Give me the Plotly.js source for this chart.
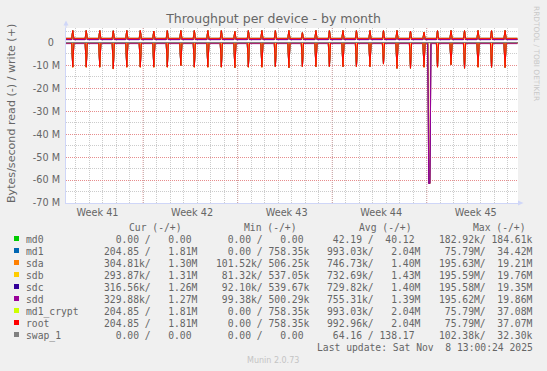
<!DOCTYPE html>
<html><head><meta charset="utf-8">
<script src="https://cdn.plot.ly/plotly-3.0.1.min.js"></script>
<style>html,body{margin:0;padding:0;background:#F0F0F0;overflow:hidden}#chart{width:547px;height:371px}</style>
</head><body><div id="chart"></div>
<script>
// ---------------- data ----------------
const seriesNames  = ['md0','md1','sda','sdb','sdc','sdd','md1_crypt','root','swap_1'];
const seriesColors = ['#00CC00','#0066B3','#FF8000','#FFCC00','#330099','#990099','#CCFF00','#FF0000','#808080'];

const curRead  = ['0.00','204.85','304.81k','293.87k','316.56k','329.88k','204.85','204.85','0.00'];
const curWrite = ['0.00','1.81M','1.30M','1.31M','1.26M','1.27M','1.81M','1.81M','0.00'];
const minRead  = ['0.00','0.00','101.52k','81.32k','92.10k','99.38k','0.00','0.00','0.00'];
const minWrite = ['0.00','758.35k','506.25k','537.05k','539.67k','500.29k','758.35k','758.35k','0.00'];
const avgRead  = ['42.19','993.03k','746.73k','732.69k','729.82k','755.31k','993.03k','992.96k','64.16'];
const avgWrite = ['40.12','2.04M','1.40M','1.43M','1.40M','1.39M','2.04M','2.04M','138.17'];
const maxRead  = ['182.92k','75.79M','195.63M','195.59M','195.58M','195.62M','75.79M','75.79M','102.38k'];
const maxWrite = ['184.61k','34.42M','19.21M','19.76M','19.35M','19.86M','37.08M','37.07M','32.30k'];

// typical level between bursts (MB/s), read and write
const readBase  = [0, 0.05, 0.30, 0.30, 0.15, 0.50, 0.05, 0.05, 0];
const writeBase = [0, 1.81, 1.30, 1.31, 1.26, 1.27, 1.81, 1.81, 0];

// daily burst times and peaks (MB/s)
const dailyTimes = ['2025-10-07 19:00','2025-10-08 19:00','2025-10-09 19:00','2025-10-10 19:00','2025-10-11 19:00',
  '2025-10-12 19:00','2025-10-13 19:00','2025-10-14 19:00','2025-10-15 19:00','2025-10-16 19:00','2025-10-17 19:00',
  '2025-10-18 19:00','2025-10-19 19:00','2025-10-20 19:00','2025-10-21 19:00','2025-10-22 19:00','2025-10-23 19:00',
  '2025-10-24 19:00','2025-10-25 19:00','2025-10-26 19:00','2025-10-27 19:00','2025-10-28 19:00','2025-10-29 19:00',
  '2025-10-30 19:00','2025-10-31 19:00','2025-11-01 19:00','2025-11-02 19:00','2025-11-03 19:00','2025-11-04 19:00',
  '2025-11-05 19:00','2025-11-06 19:00','2025-11-07 19:00','2025-11-08 19:00'];
const rootReadPeak  = [10.7,10.7,10.7,11.4,10.7,10.7,10.7,10.7,10.0,10.7,10.7,10.7,10.9,10.7,10.7,10.5,10.9,
  10.5,10.5,10.5,10.5,10.5,10.5,9.3,11.2,11.2,10.7,10.7,9.6,11.2,10.7,10.8,10.8];
const rootWritePeak = [5.2,5.2,5.2,5.1,5.2,5.2,5.0,5.2,5.2,5.2,5.2,5.2,4.8,5.2,5.2,5.2,5.2,
  4.3,5.2,5.2,5.2,5.2,5.2,5.2,5.2,5.0,4.5,5.2,5.2,5.2,5.2,5.2,5.2];
const sdaReadPeak   = [10.9,10.9,10.9,11.6,10.9,10.9,10.9,10.9,10.2,10.9,10.9,10.9,11.1,10.9,10.9,10.7,11.1,
  10.7,10.7,10.7,10.7,10.7,10.7,9.5,11.4,11.4,10.9,10.9,9.8,11.4,10.9,11.0,11.0];
const sdaWritePeak  = [4.0,4.0,4.0,3.9,4.0,4.0,3.8,4.0,4.0,4.0,4.0,4.0,3.7,4.0,4.0,4.0,4.0,
  3.4,4.0,4.0,4.0,4.0,4.0,4.0,4.0,3.8,3.5,4.0,4.0,4.0,4.0,4.0,4.0];

// one large read burst on the RAID members
const bigTimes    = ['2025-11-03 03:30','2025-11-03 05:30'];
const diskBigRead = [61.5, 61.5];

const dailyReadSrc  = [null, rootReadPeak, sdaReadPeak, rootReadPeak, rootReadPeak, rootReadPeak, rootReadPeak, rootReadPeak, null];
const dailyWriteSrc = [null, rootWritePeak, sdaWritePeak, rootWritePeak, rootWritePeak, rootWritePeak, rootWritePeak, rootWritePeak, null];
const bigReadSrc    = [null, null, diskBigRead, diskBigRead, diskBigRead, diskBigRead, null, null, null];

const dataStart = '2025-10-07 07:00', dataEnd = '2025-11-09 17:00';
const xRange = ['2025-10-07 07:00', '2025-11-09 18:00'];

const weekStarts = ['2025-10-13 00:00','2025-10-20 00:00','2025-10-27 00:00','2025-11-03 00:00'];
const weekMids   = ['2025-10-09 15:00','2025-10-16 15:00','2025-10-23 15:00','2025-10-30 15:00','2025-11-06 15:00'];
const weekLabels = ['Week 41','Week 42','Week 43','Week 44','Week 45'];

const yTickVals = [0,-10e6,-20e6,-30e6,-40e6,-50e6,-60e6,-70e6];
const yTickText = ['0\u00a0\u00a0','-10 M','-20 M','-30 M','-40 M','-50 M','-60 M','-70 M'];

// ---------------- build ----------------
const toMs = s => Date.parse(s.replace(' ','T') + ':00Z');
const spikeHalfHours = [2, 2, 1, 2, 2, 2, 2, 2, 2];   // drawing width of a burst per line
function buildPoints(base, events, sign, hw){
  events.sort((a,b)=>a[0]-b[0]);
  const xs=[toMs(dataStart)], ys=[base];
  for(let i=0;i<events.length;i++){
    const t=events[i][0], v=events[i][1];
    const prev = i>0 ? events[i-1][0] : -Infinity;
    const next = i<events.length-1 ? events[i+1][0] : Infinity;
    if(t-prev > 2*hw){ xs.push(t-hw); ys.push(base); }
    xs.push(t); ys.push(v);
    if(next-t > 2*hw){ xs.push(t+hw); ys.push(base); }
  }
  xs.push(toMs(dataEnd)); ys.push(base);
  return {x:xs, y:ys.map(v=>sign*v*1e6)};
}
function eventsFrom(times, vals){ return vals ? times.map((t,i)=>[toMs(t), vals[i]]) : []; }

const traces=[];
seriesNames.forEach((name,i)=>{
  const hw = spikeHalfHours[i]*3600e3;
  const rEv = eventsFrom(dailyTimes, dailyReadSrc[i]).concat(eventsFrom(bigTimes, bigReadSrc[i]));
  const wEv = eventsFrom(dailyTimes, dailyWriteSrc[i]);
  const r = buildPoints(readBase[i], rEv, -1, hw);
  const w = buildPoints(writeBase[i], wEv, 1, hw);
  traces.push({type:'scatter', mode:'lines', x:r.x, y:r.y, line:{color:seriesColors[i], width:1}, hoverinfo:'skip', showlegend:false, name:name+' read'});
  traces.push({type:'scatter', mode:'lines', x:w.x, y:w.y, line:{color:seriesColors[i], width:1}, hoverinfo:'skip', showlegend:false, name:name+' write'});
});

// ---------------- layout helpers ----------------
const W=547, H=371, PL=66, PR=518, PT=28, PB=203;
const px = x => (x-PL)/(PR-PL);
const py = y => (PB-y)/(PB-PT);
const AXC = '#CFD6F8';
const FONTC = '#666666';
const MONO = 'DejaVu Sans Mono';
const SANS = 'DejaVu Sans';
const nb = s => s.replace(/ /g,'\u00a0');
function fmt(s){ const m = s.match(/^([\d.]+)([kMG]?)$/); return m[1].padStart(6,' ') + (m[2]||' '); }

const annotations=[], shapes=[];
function txt(text, x, y, opts){
  annotations.push(Object.assign({text:text, x:px(x), y:py(y), xref:'paper', yref:'paper', showarrow:false,
    xanchor:'left', yanchor:'middle', borderpad:0, borderwidth:0,
    font:{family:MONO, size:9.7, color:FONTC}}, opts||{}));
}

// y axis label
txt('Bytes/second read (-) / write (+)', 11, 114, {xanchor:'center', textangle:-90, font:{family:SANS, size:11.1, color:FONTC}});
// side watermark
txt('RRDTOOL / TOBI OETIKER', 537, 53, {xanchor:'center', textangle:90, font:{family:SANS, size:7.4, color:'#C8C8C8'}});

// legend header
const headX = [129, 243.5, 358.7, 473];
['Cur (-/+)','Min (-/+)','Avg (-/+)','Max (-/+)'].forEach((h,k)=>txt(nb(h), headX[k], 227.7));
const colX = [104, 215.7, 327, 438.5];
const cols = [[curRead,curWrite],[minRead,minWrite],[avgRead,avgWrite],[maxRead,maxWrite]];
seriesNames.forEach((name,i)=>{
  const yc = 239.5 + 12*i;
  txt(nb(name), 26, yc);
  cols.forEach((c,k)=>txt(nb(fmt(c[0][i]) + '/ ' + fmt(c[1][i])), colX[k], yc));
  shapes.push({type:'rect', xref:'paper', yref:'paper', x0:px(14), x1:px(19), y0:py(236+12*i), y1:py(241+12*i),
    fillcolor:seriesColors[i], line:{width:0}, layer:'above'});
});
txt(nb('Last update: Sat Nov  8 13:00:24 2025'), 532.8, 347.5, {xanchor:'right'});
txt('Munin 2.0.73', 273, 360.5, {xanchor:'center', font:{family:SANS, size:8, color:'#C4C4C4'}});

// week grid lines
weekStarts.forEach(d=>shapes.push({type:'line', xref:'x', yref:'paper', x0:d, x1:d, y0:0, y1:1,
  line:{color:'rgba(240,120,120,0.75)', width:1, dash:'1px,1px'}, layer:'below'}));
// axis arrows
shapes.push({type:'line', xref:'paper', yref:'paper', x0:px(66), x1:px(66), y0:py(PT), y1:py(24), line:{color:AXC, width:1}});
shapes.push({type:'path', xref:'paper', yref:'paper', path:`M ${px(63.5)} ${py(25.5)} L ${px(68.5)} ${py(25.5)} L ${px(66)} ${py(20.5)} Z`, fillcolor:AXC, line:{width:0}});
shapes.push({type:'path', xref:'paper', yref:'paper', path:`M ${px(518)} ${py(200.5)} L ${px(518)} ${py(205.5)} L ${px(523.5)} ${py(203)} Z`, fillcolor:AXC, line:{width:0}});

const layout = {
  width:W, height:H, paper_bgcolor:'#F0F0F0', plot_bgcolor:'#FFFFFF',
  margin:{l:PL, r:W-PR, t:PT, b:H-PB, pad:0},
  showlegend:false,
  title:{text:'Throughput per device - by month', x:273.5/W, xref:'container', xanchor:'center',
    y:1-19/H, yref:'container', yanchor:'middle', font:{family:SANS, size:12.5, color:FONTC}},
  xaxis:{type:'date', range:xRange, tickmode:'array', tickvals:weekMids, ticktext:weekLabels,
    showgrid:false, zeroline:false, showline:true, linecolor:AXC, linewidth:1, ticks:'',
    tickfont:{family:SANS, size:9.7, color:FONTC}, fixedrange:true,
    minor:{tick0:'2025-10-06', dtick:86400000, showgrid:true, gridcolor:'rgba(170,170,170,0.6)', griddash:'1px,1px', gridwidth:1, ticks:''}},
  yaxis:{range:[-70e6, 6.32e6], tickmode:'array', tickvals:yTickVals, ticktext:yTickText,
    showgrid:true, gridcolor:'rgba(240,120,120,0.75)', griddash:'1px,1px', gridwidth:1,
    zeroline:false, showline:true, linecolor:AXC, linewidth:1, ticks:'', ticklabelstandoff:3,
    tickfont:{family:SANS, size:9.7, color:FONTC}, fixedrange:true,
    minor:{tick0:0, dtick:5e6, showgrid:true, gridcolor:'rgba(170,170,170,0.6)', griddash:'1px,1px', gridwidth:1, ticks:''}},
  annotations:annotations, shapes:shapes
};
Plotly.newPlot('chart', traces, layout, {staticPlot:true, displayModeBar:false});
</script></body></html>
